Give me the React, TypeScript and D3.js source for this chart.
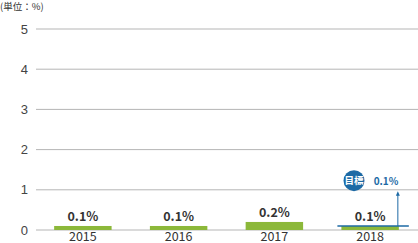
import React from "react";
import * as d3 from "d3";

const categories = ["2015", "2016", "2017", "2018"];
const values = [0.1, 0.1, 0.2, 0.1];
const valueLabels = ["0.1%", "0.1%", "0.2%", "0.1%"];
const yTicks = [0, 1, 2, 3, 4, 5];
const targetCategory = "2018";
const targetValue = 0.1;
const targetLabel = "0.1%";
const unitLabel = "(単位：%)";
const badgeLabel = "目標";

const W = 418;
const H = 243;
const font = "'Noto Sans CJK JP', 'Noto Sans', sans-serif";

export default function App() {
  const y = d3.scaleLinear().domain([0, 5]).range([230, 29]);
  const x = d3.scaleBand().domain(categories).range([35, 418]).paddingInner(0.4).paddingOuter(0.2);
  const bw = x.bandwidth();
  const blue = "#1d6aa5";
  const tx = (x(targetCategory) as number);
  const ty = y(targetValue);
  const arrowX = tx + bw - 1;
  return (
    <div style={{ position: "absolute", left: 0, top: 0 }}>
      <svg width={W} height={H} style={{ display: "block" }} fontFamily={font}>
        <text x={0} y={10} fontSize={9.5} fill="#333">{unitLabel}</text>
        {yTicks.map((t) => (
          <g key={t}>
            <line x1={36} x2={418} y1={y(t)} y2={y(t)} stroke="#b5b5b5" strokeWidth={1} />
            <text x={28} y={y(t) + 4.5} fontSize={13} textAnchor="end" fill="#444" fontFamily="'Liberation Sans', sans-serif" fontWeight={300}>{t}</text>
          </g>
        ))}
        {categories.map((c, i) => (
          <g key={c}>
            <rect x={x(c)} y={y(values[i])} width={bw} height={y(0) - y(values[i])} fill="#8cb83a" />
            <text x={(x(c) as number) + bw / 2} y={y(values[i]) - 5} fontSize={12.5} fontWeight="bold" textAnchor="middle" fill="#333">{valueLabels[i]}</text>
            <text x={(x(c) as number) + bw / 2} y={240.5} fontSize={12.5} textAnchor="middle" fill="#333">{c}</text>
          </g>
        ))}
        <line x1={tx - 4} x2={tx + bw + 10} y1={ty} y2={ty} stroke={blue} strokeWidth={1.3} />
        <line x1={arrowX} x2={arrowX} y1={ty} y2={y(1) + 5} stroke={blue} strokeWidth={1} />
        <path d={`M${arrowX - 2},${y(1) + 6} L${arrowX},${y(1) + 1.5} L${arrowX + 2},${y(1) + 6} Z`} fill={blue} />
        <circle cx={354} cy={180.7} r={10.5} fill={blue} />
        <text x={354} y={184.3} fontSize={9.5} fontWeight="bold" textAnchor="middle" fill="#fff">{badgeLabel}</text>
        <text x={386} y={185} fontSize={10} fontWeight="bold" textAnchor="middle" fill={blue}>{targetLabel}</text>
      </svg>
    </div>
  );
}
